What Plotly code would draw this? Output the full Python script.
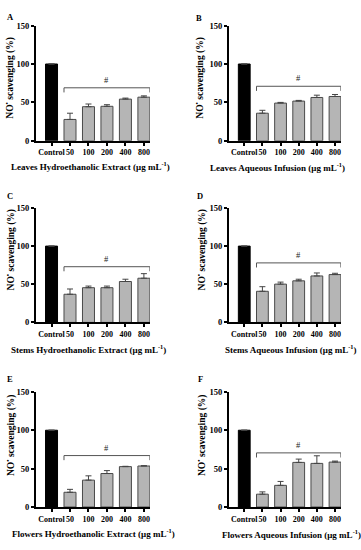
import plotly.graph_objects as go

categories = ["Control", "50", "100", "200", "400", "800"]

panel_letters = ["A", "B", "C", "D", "E", "F"]
panel_titles = [
    "Leaves Hydroethanolic Extract (μg mL<sup>-1</sup>)",
    "Leaves Aqueous Infusion (μg mL<sup>-1</sup>)",
    "Stems Hydroethanolic Extract (μg mL<sup>-1</sup>)",
    "Stems Aqueous Infusion (μg mL<sup>-1</sup>)",
    "Flowers Hydroethanolic Extract (μg mL<sup>-1</sup>)",
    "Flowers Aqueous Infusion (μg mL<sup>-1</sup>)",
]
y_title = "NO<sup>•</sup> scavenging (%)"

means_A = [100, 27.8, 44.4, 44.9, 54.3, 56.8]
errs_A = [0, 8.1, 3.5, 2.1, 1.3, 1.7]
means_B = [100, 35.9, 49.1, 51.7, 56.4, 57.7]
errs_B = [0, 3.8, 0.9, 0.9, 3.0, 2.6]
means_C = [100, 36.9, 45.5, 45.5, 53.6, 57.9]
errs_C = [0, 6.9, 2.1, 2.1, 3.0, 6.0]
means_D = [100, 40.8, 50.2, 54.5, 60.9, 62.7]
errs_D = [0, 6.0, 2.6, 2.1, 3.9, 1.7]
means_E = [100, 19.2, 35.0, 43.6, 52.6, 53.4]
errs_E = [0, 3.8, 5.6, 3.8, 0.4, 0.4]
means_F = [100, 16.7, 28.2, 58.1, 56.8, 58.5]
errs_F = [0, 3.0, 5.1, 4.3, 9.9, 1.3]

all_means = [means_A, means_B, means_C, means_D, means_E, means_F]
all_errs = [errs_A, errs_B, errs_C, errs_D, errs_E, errs_F]

# level (in % units) of the significance bracket in each panel
bracket_levels = [69, 71, 73, 78, 67, 70.5]

y_ticks = [0, 50, 100, 150]

W, H = 361, 550
FONT = "Liberation Serif"

col_px = [(36, 150), (229, 341)]
row_px = [(21, 138.3), (206.7, 323.3), (394, 511.3)]

# pixel placement of the titles / letters
xtitle_pos = [(90, 164), (277, 165), (88, 350), (290, 350), (93, 538), (291, 539)]
ytitle_pos = [(10, 74), (200, 74), (10, 249), (201, 249), (10, 438), (201, 438)]
letter_pos = [(10, 12), (199, 13), (10, 195), (200, 195), (10, 381), (200, 381)]

fig = go.Figure()
bar_w = 0.65
xr = [-0.84, 5.33]


def px(x, y):
    return x / W, (H - y) / H


for i in range(6):
    r, c = divmod(i, 2)
    xa = "x" if i == 0 else f"x{i+1}"
    ya = "y" if i == 0 else f"y{i+1}"
    colors = ["#000000"] + ["#b5b5b5"] * 5
    line_colors = ["#000000"] + ["#4a4a4a"] * 5
    fig.add_trace(go.Bar(
        x=list(range(len(categories))), y=all_means[i],
        xaxis=xa, yaxis=ya, width=bar_w,
        marker=dict(color=colors, line=dict(color=line_colors, width=1)),
        error_y=dict(type="data", symmetric=False, array=all_errs[i],
                     arrayminus=[0] * 6, color="#444444", thickness=1, width=3),
        showlegend=False, hoverinfo="skip",
    ))
    x0, x1 = col_px[c]
    ytop, ybot = row_px[r]
    xdom = [x0 / W, x1 / W]
    ydom = [(H - ybot) / H, (H - ytop) / H]
    axkey = "xaxis" if i == 0 else f"xaxis{i+1}"
    aykey = "yaxis" if i == 0 else f"yaxis{i+1}"
    fig.layout[axkey] = dict(
        domain=xdom, anchor=ya, range=xr,
        tickmode="array", tickvals=list(range(6)), ticktext=categories,
        tickangle=0,
        ticks="outside", ticklen=3, tickwidth=1.5, tickcolor="black",
        showline=True, linecolor="black", linewidth=2, showgrid=False, zeroline=False,
        tickfont=dict(family=FONT, size=8, color="black", weight="bold"),
        fixedrange=True,
    )
    fig.layout[aykey] = dict(
        domain=ydom, anchor=xa, range=[0, 150],
        tickmode="array", tickvals=y_ticks,
        ticks="outside", ticklen=3, tickwidth=1.5, tickcolor="black",
        showline=True, linecolor="black", linewidth=2, showgrid=False, zeroline=False,
        tickfont=dict(family=FONT, size=8.5, color="black", weight="bold"),
        fixedrange=True,
    )
    # significance bracket
    b = bracket_levels[i]
    xl, xrr = 1 - bar_w / 2, 5 + bar_w / 2
    drop = 6
    fig.add_shape(type="path", xref=xa, yref=ya,
                  path=f"M {xl},{b - drop} L {xl},{b} L {xrr},{b} L {xrr},{b - drop}",
                  line=dict(color="#555555", width=1))
    fig.add_annotation(x=3, y=b, xref=xa, yref=ya, text="#", showarrow=False,
                       yanchor="bottom", yshift=1,
                       font=dict(family=FONT, size=8.5, color="#222222"))
    # x title
    tx, ty = px(*xtitle_pos[i])
    fig.add_annotation(x=tx, y=ty, xref="paper", yref="paper", text=panel_titles[i],
                       showarrow=False, xanchor="center", yanchor="middle",
                       font=dict(family=FONT, size=9, color="black", weight="bold"))
    # y title
    tx, ty = px(*ytitle_pos[i])
    fig.add_annotation(x=tx, y=ty, xref="paper", yref="paper", text=y_title,
                       showarrow=False, xanchor="center", yanchor="middle", textangle=-90,
                       font=dict(family=FONT, size=9.5, color="black", weight="bold"))
    # panel letter
    tx, ty = px(*letter_pos[i])
    fig.add_annotation(x=tx, y=ty, xref="paper", yref="paper",
                       text=panel_letters[i], showarrow=False,
                       xanchor="center", yanchor="middle",
                       font=dict(family=FONT, size=8.5, color="black", weight="bold"))

fig.update_layout(
    width=W, height=H, margin=dict(l=0, r=0, t=0, b=0),
    paper_bgcolor="white", plot_bgcolor="white", bargap=0.3,
)

fig.write_html("out.html", config={"displayModeBar": False},
               post_script="document.body.style.margin='0';document.body.style.padding='0';")
